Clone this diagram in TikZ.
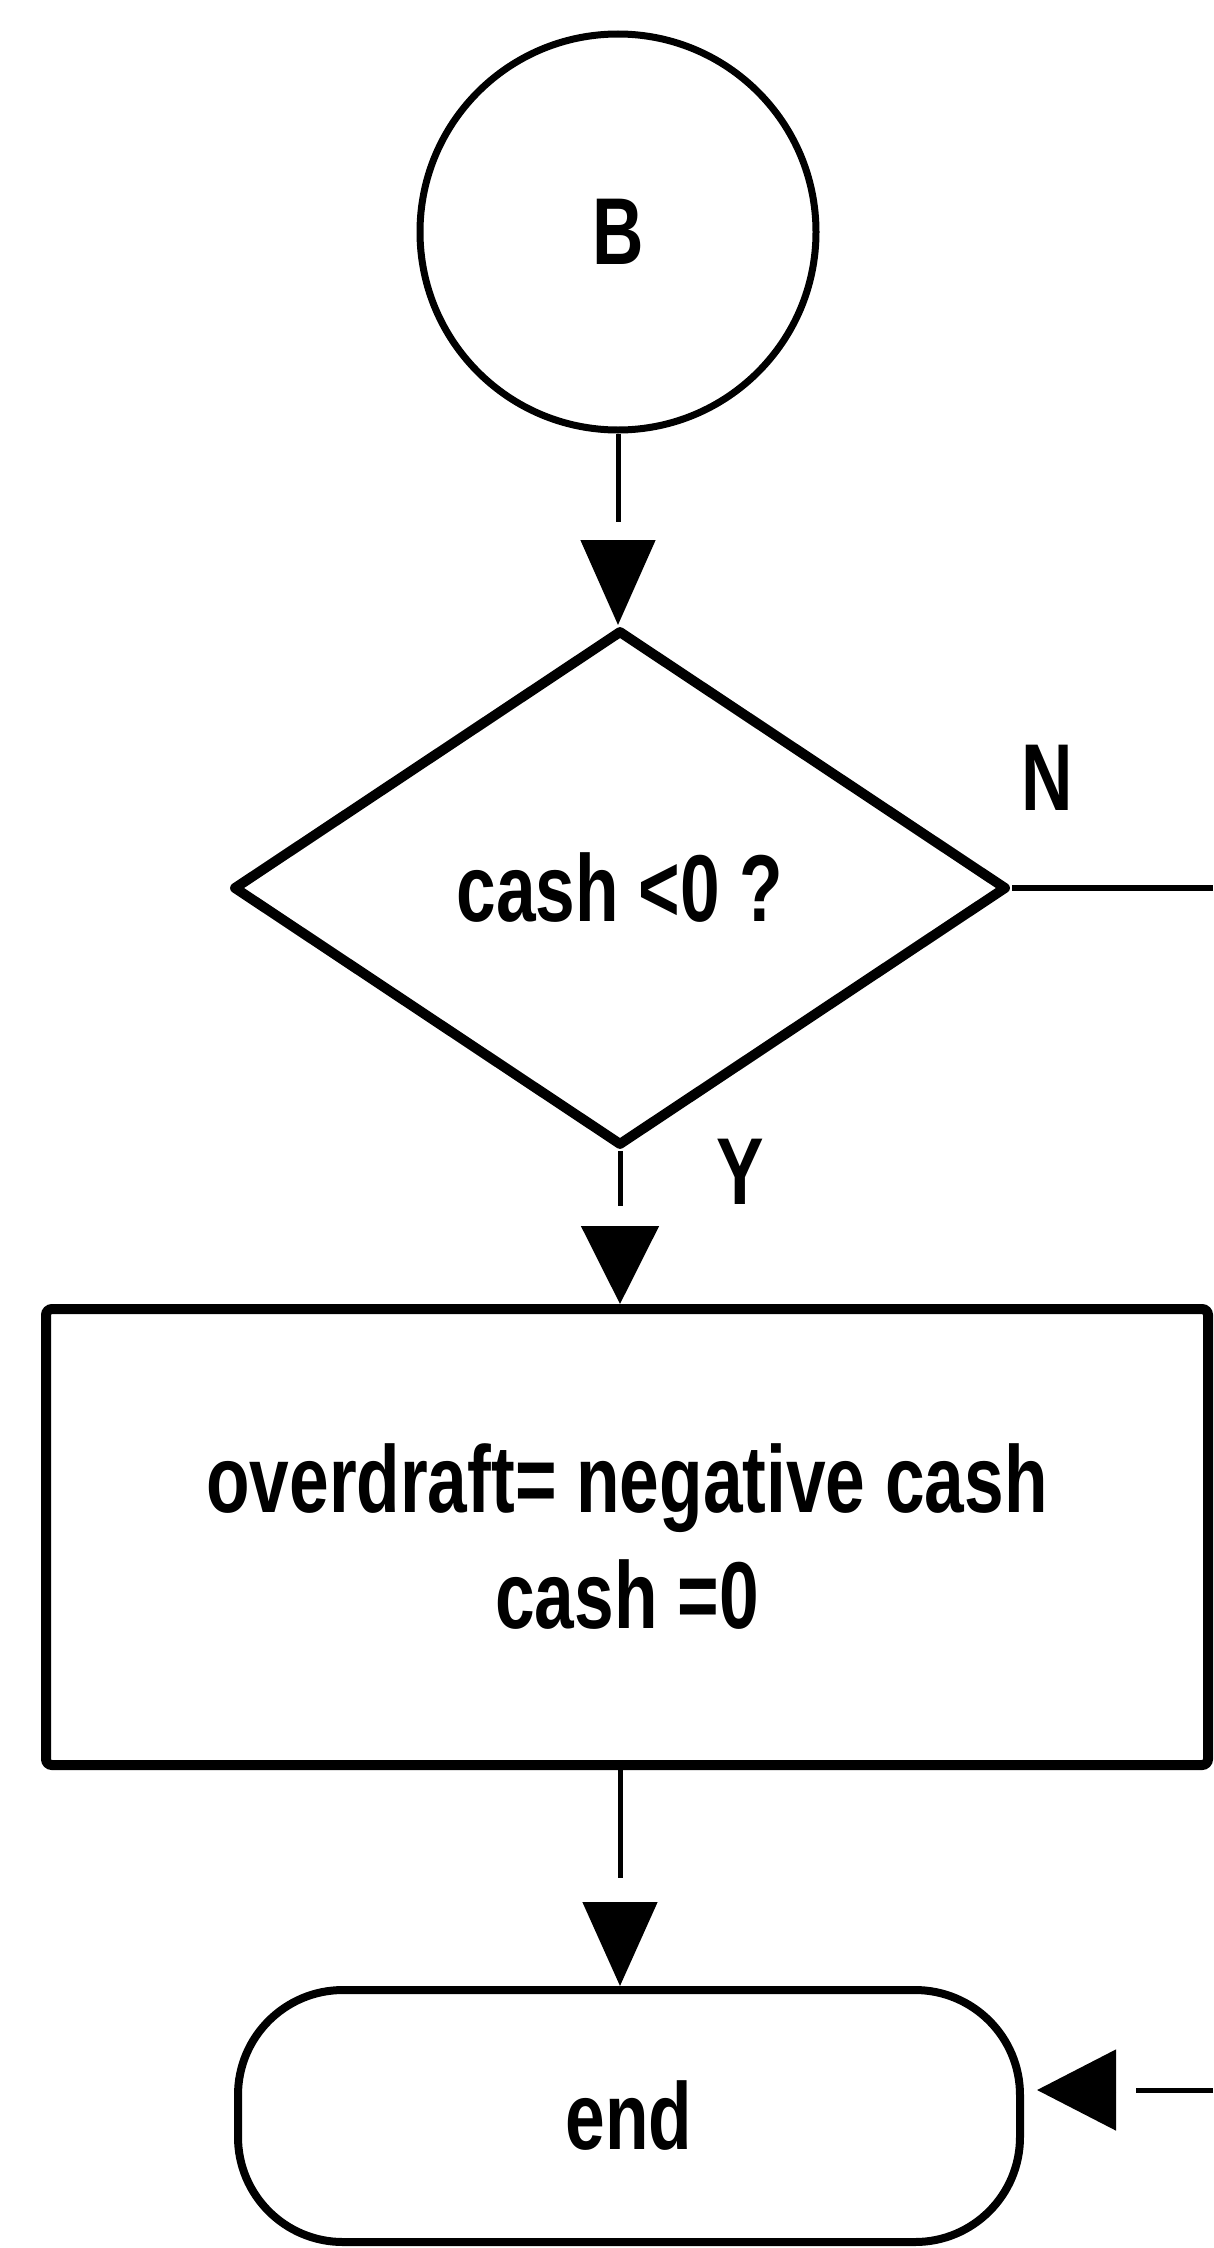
\documentclass[tikz,border=0pt]{standalone}
\usepackage{fontspec}
\newfontfamily\lab[FakeStretch=0.75]{Liberation Sans Bold}
\usetikzlibrary{shapes.geometric,arrows.meta}
\begin{document}
\begin{tikzpicture}[x=1pt,y=-1pt,
  txt/.style={font=\lab\fontsize{95}{116}\selectfont},
  conn/.style={line width=5pt},
  headA/.style={-{Triangle[length=85pt,width=74pt]}},
  headB/.style={-{Triangle[length=78pt,width=77pt]}},
  headC/.style={-{Triangle[length=84pt,width=74pt]}},
  headD/.style={-{Triangle[length=79pt,width=80pt]}}
]
\useasboundingbox[fill=white] (0,0) rectangle (1213,2248);

% nodes
\node[txt, draw, circle, line width=7pt, minimum size=396pt, inner sep=0pt] (B) at (618,232) {B};
\node[txt, draw, diamond, line width=10pt, line join=round, minimum width=774pt, minimum height=516pt, inner sep=0pt] (dec) at (620,888) {cash <0 ?};
\node[txt, draw, rectangle, line width=10pt, rounded corners=6pt, minimum width=1162pt, minimum height=456pt, align=center, inner sep=0pt] (proc) at (627,1537) {overdraft= negative cash\\cash =0};
\node[txt, draw, rectangle, line width=8pt, rounded corners=105pt, minimum width=782pt, minimum height=252pt, inner sep=0pt] (endn) at (629,2116) {end};

\node[txt] (N) at (1047,778) {N};
\node[txt] (Y) at (740,1172) {Y};

\coordinate (nout) at (1213,888);
\coordinate (rin) at (1213,2090);
\coordinate (t1) at (B.south |- dec.north);
\coordinate (t2) at (dec.south |- proc.north);
\coordinate (s3) at (proc.south -| dec.south);
\coordinate (t3) at (dec.south |- endn.north);
\coordinate (e4) at (rin -| endn.east);
\coordinate (t4) at ([xshift=13pt]e4);

% connectors: line, then a detached arrowhead
\draw[conn, shorten >=103pt] (B.south) -- (t1);
\draw[conn, headA] ([yshift=85pt]t1) -- (t1);
\draw[conn, shorten >=98pt] (dec.south) -- (t2);
\draw[conn, headB] ([yshift=78pt]t2) -- (t2);
\draw[conn, shorten >=108pt] (s3) -- (t3);
\draw[conn, headC] ([yshift=84pt]t3) -- (t3);
\draw[conn, line width=6pt] (dec.east) -- (nout);
\draw[conn, shorten >=99pt] (rin) -- (t4);
\draw[conn, headD] ([xshift=79pt]t4) -- (t4);
\end{tikzpicture}
\end{document}
